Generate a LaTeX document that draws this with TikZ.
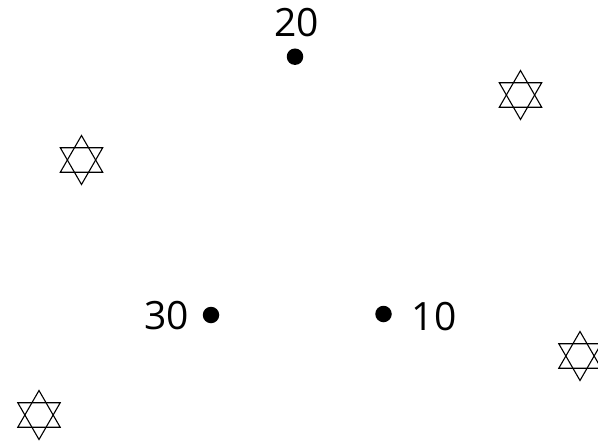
\documentclass[tikz,border=0pt]{standalone}
\usepackage{fontspec}
\setmainfont{Open Sans}
\usepackage{tikz}

\begin{document}
\begin{tikzpicture}[x=1pt,y=-1pt,
  dot/.style={circle,fill=black,inner sep=0pt,minimum size=16.5pt},
  num/.style={inner sep=0pt,font=\fontsize{39}{40}\selectfont},
  hexa/.style={line width=1.1pt,line join=miter}]
\useasboundingbox (0,0) rectangle (598,442);
% points
\node[dot] (d20) at (295,56.7) {};
\node[dot] (d30) at (211,315) {};
\node[dot] (d10) at (383.5,314) {};
\node[num] (t20) at (296.5,22.5) {20};
\node[num] (t30) at (166.5,316) {30};
\node[num] (t10) at (434,317) {10};
% stars
\foreach \cx/\cy in {520.5/95, 81.5/160, 39/415, 580/356} {
  \draw[hexa] (\cx,\cy-24.5) -- ++(-21.2,36.75) -- ++(42.4,0) -- cycle;
  \draw[hexa] (\cx,\cy+24.5) -- ++(-21.2,-36.75) -- ++(42.4,0) -- cycle;
}
\end{tikzpicture}
\end{document}
